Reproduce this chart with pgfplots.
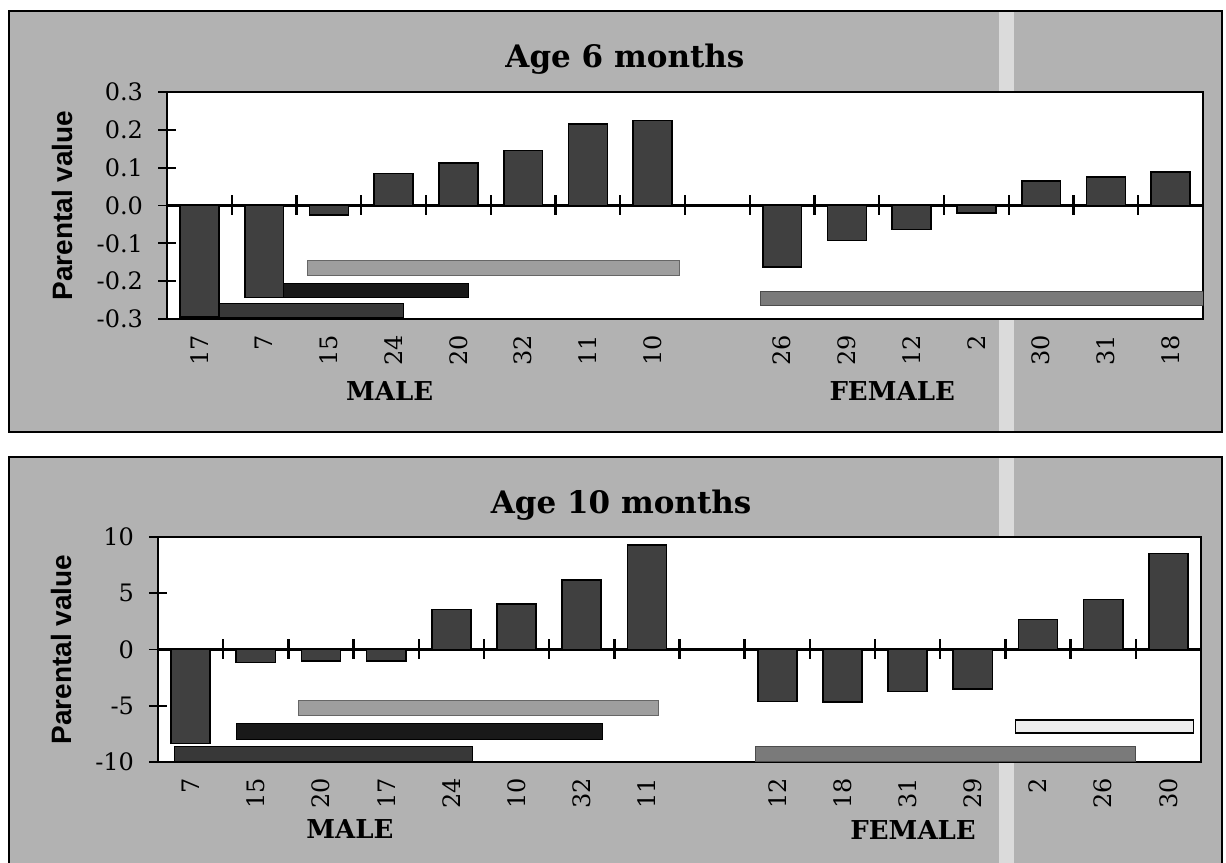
\documentclass[border=0pt]{standalone}
\usepackage{fontspec}
\setmainfont{DejaVu Serif}
\newfontfamily\sansfont{Liberation Sans}
\usepackage{pgfplots}
\pgfplotsset{compat=1.18}
\definecolor{panel}{gray}{0.70}
\definecolor{streak}{gray}{0.86}
\definecolor{barfill}{gray}{0.25}
\definecolor{hlight}{gray}{0.62}
\definecolor{hblack}{gray}{0.10}
\definecolor{hdark}{gray}{0.22}
\definecolor{hmid}{gray}{0.48}
\definecolor{hwhite}{gray}{0.93}

\tikzset{grouplabel/.style={font=\bfseries\fontsize{13}{15}\selectfont}}
\pgfplotsset{
  panelaxis/.style={
    scale only axis, anchor=south west,
    xmin=-0.5, xmax=15.5,
    axis background/.style={fill=white},
    axis line style={line width=1.2pt},
    xtick={0,1,2,3,4,5,6,7,9,10,11,12,13,14,15},
    xtick style={draw=none},
    ytick pos=left,
    ytick style={line width=0.9pt, black},
    tick align=center,
    major tick length=9pt,
    xticklabel style={rotate=90, anchor=east, font=\fontsize{12}{14}\selectfont},
    yticklabel style={font=\fontsize{12}{14}\selectfont, xshift=-4pt},
    ylabel style={font=\sansfont\bfseries\fontsize{14}{16}\selectfont, anchor=center},
    title style={font=\bfseries\fontsize{15.5}{17}\selectfont, anchor=center, yshift=0pt},
    clip mode=individual,
  },
  vbar/.style={ybar, bar width=0.6, bar shift=0pt, fill=barfill, draw=black, line width=0.8pt},
  zeromarks/.style={only marks, mark=|, mark size=5pt, mark options={line width=1.2pt, black}},
}

\begin{document}
\begin{tikzpicture}
\useasboundingbox (0pt,0pt) rectangle (613pt,431pt);
\fill[white] (0pt,0pt) rectangle (613pt,431pt);
% grey panels
\fill[panel] (4.5pt,215pt) rectangle (611pt,425.5pt);
\fill[panel] (4.5pt,-2pt) rectangle (611pt,202.5pt);
\fill[streak] (499.5pt,-2pt) rectangle (507pt,425.5pt);
\fill[white] (499pt,202.5pt) rectangle (507pt,215pt);
\draw[line width=0.9pt] (4.5pt,215pt) rectangle (611pt,425.5pt);
\draw[line width=0.9pt] (4.5pt,-2pt) -- (4.5pt,202.5pt) -- (611pt,202.5pt) -- (611pt,-2pt);

% ---------------- Age 6 months ----------------
\begin{axis}[panelaxis,
  at={(83.5pt,271.5pt)}, width=518pt, height=113.5pt,
  ymin=-0.3, ymax=0.3,
  ytick={-0.3,-0.2,-0.1,0,0.1,0.2,0.3},
  yticklabels={-0.3,-0.2,-0.1,0.0,0.1,0.2,0.3},
  xticklabels={17,7,15,24,20,32,11,10,26,29,12,2,30,31,18},
  ylabel={Parental value},
  ylabel style={at={(axis description cs:-0.101,0.5)}},
  title={Age 6 months},
  title style={at={(axis description cs:0.442,1.092)}},
]
% grouping bars
\addplot[fill=hlight, draw=black!60, line width=0.5pt] coordinates {(1.67,-0.145) (7.41,-0.145) (7.41,-0.185) (1.67,-0.185) (1.67,-0.145)};
\addplot[fill=hblack, draw=black, line width=0.5pt] coordinates {(0.73,-0.207) (4.16,-0.207) (4.16,-0.244) (0.73,-0.244) (0.73,-0.207)};
\addplot[fill=hdark, draw=black, line width=0.5pt] coordinates {(-0.28,-0.26) (3.15,-0.26) (3.15,-0.296) (-0.28,-0.296) (-0.28,-0.26)};
\addplot[fill=hmid, draw=black!70, line width=0.5pt] coordinates {(8.66,-0.227) (15.5,-0.227) (15.5,-0.265) (8.66,-0.265) (8.66,-0.227)};
% zero line
\addplot[black, line width=1.2pt] coordinates {(-0.5,0) (15.5,0)};
% values
\addplot[vbar] coordinates {
  (0,-0.295) (1,-0.243) (2,-0.025) (3,0.085) (4,0.113) (5,0.145) (6,0.215) (7,0.225)
  (9,-0.163) (10,-0.092) (11,-0.063) (12,-0.02) (13,0.065) (14,0.076) (15,0.088)};
\addplot[zeromarks] coordinates {
  (0.5,0) (1.5,0) (2.5,0) (3.5,0) (4.5,0) (5.5,0) (6.5,0) (7.5,0)
  (8.5,0) (9.5,0) (10.5,0) (11.5,0) (12.5,0) (13.5,0) (14.5,0)};
\node[grouplabel] at (axis description cs:0.215,-0.317) {MALE};
\node[grouplabel] at (axis description cs:0.700,-0.317) {FEMALE};
\end{axis}

% ---------------- Age 10 months ----------------
\begin{axis}[panelaxis,
  at={(79pt,50pt)}, width=521.5pt, height=112.5pt,
  ymin=-10, ymax=10,
  ytick={-10,-5,0,5,10},
  yticklabels={-10,-5,0,5,10},
  xticklabels={7,15,20,17,24,10,32,11,12,18,31,29,2,26,30},
  ylabel={Parental value},
  ylabel style={at={(axis description cs:-0.093,0.5)}},
  title={Age 10 months},
  title style={at={(axis description cs:0.444,1.089)}},
]
\addplot[fill=hlight, draw=black!60, line width=0.5pt] coordinates {(1.65,-4.55) (7.18,-4.55) (7.18,-5.91) (1.65,-5.91) (1.65,-4.55)};
\addplot[fill=hblack, draw=black, line width=0.5pt] coordinates {(0.70,-6.62) (6.32,-6.62) (6.32,-7.96) (0.70,-7.96) (0.70,-6.62)};
\addplot[fill=hdark, draw=black, line width=0.5pt] coordinates {(-0.25,-8.64) (4.32,-8.64) (4.32,-10) (-0.25,-10) (-0.25,-8.64)};
\addplot[fill=hwhite, draw=black, line width=0.6pt] coordinates {(12.65,-6.27) (15.39,-6.27) (15.39,-7.42) (12.65,-7.42) (12.65,-6.27)};
\addplot[fill=hmid, draw=black!70, line width=0.5pt] coordinates {(8.67,-8.58) (14.49,-8.58) (14.49,-10) (8.67,-10) (8.67,-8.58)};
\addplot[black, line width=1.2pt] coordinates {(-0.5,0) (15.5,0)};
\addplot[vbar] coordinates {
  (0,-8.34) (1,-1.17) (2,-1.0) (3,-1.0) (4,3.57) (5,4.02) (6,6.18) (7,9.29)
  (9,-4.64) (10,-4.69) (11,-3.75) (12,-3.51) (13,2.68) (14,4.46) (15,8.55)};
\addplot[zeromarks] coordinates {
  (0.5,0) (1.5,0) (2.5,0) (3.5,0) (4.5,0) (5.5,0) (6.5,0) (7.5,0)
  (8.5,0) (9.5,0) (10.5,0) (11.5,0) (12.5,0) (13.5,0) (14.5,0)};
\node[grouplabel] at (axis description cs:0.184,-0.298) {MALE};
\node[grouplabel] at (axis description cs:0.724,-0.302) {FEMALE};
\end{axis}
\end{tikzpicture}
\end{document}
